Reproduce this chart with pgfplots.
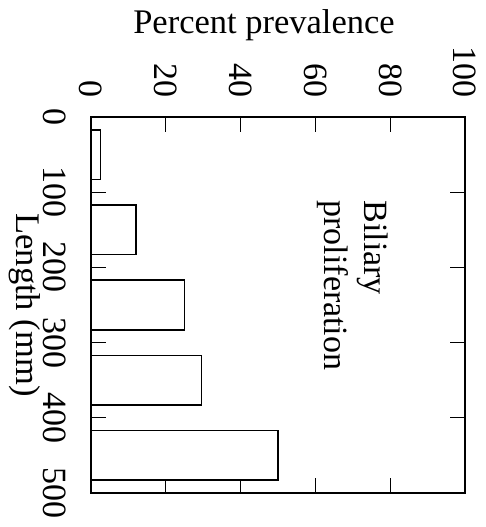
\documentclass[border=0pt]{standalone}
\usepackage{fontspec}
\setmainfont{Liberation Serif}
\usepackage{pgfplots}
\pgfplotsset{compat=1.18}
\begin{document}
\begin{tikzpicture}
\path[use as bounding box] (0,0) rectangle (485pt,-527pt);
\begin{axis}[
  at={(91pt,-117pt)}, anchor=north west,
  scale only axis, width=374pt, height=376pt,
  xmin=0, xmax=100, ymin=0, ymax=500, y dir=reverse,
  xtick={0,20,...,100}, ytick={0,100,...,500},
  xticklabel pos=upper, yticklabel pos=left,
  tick align=inside, major tick length=15pt,
  every tick/.style={black, line width=1.3pt},
  axis line style={line width=2pt},
  /pgf/number format/assume math mode=true,
  tick label style={font=\fontsize{34}{40}\selectfont, inner sep=0pt},
  xticklabel style={rotate=-90, anchor=east},
  yticklabel style={rotate=-90, anchor=north},
  xticklabel shift=19pt, yticklabel shift=25pt,
  xlabel={Percent prevalence},
  ylabel={Length (mm)},
  every axis x label/.style={at={(axis description cs:0.4626,1.2234)}, anchor=base, inner sep=0pt, font=\fontsize{34.5}{40}\selectfont},
  every axis y label/.style={at={(axis description cs:-0.198,0.5)}, anchor=base, rotate=-90, inner sep=0pt, font=\fontsize{34.5}{40}\selectfont},
]
\addplot[xbar, bar width=66, fill=white, draw=black, line width=1.6pt] coordinates {(2.5,50) (12,150) (25,250) (29.5,350) (50,450)};
\node[rotate=-90, anchor=north west, align=left, inner sep=0pt, font=\fontsize{34}{40}\selectfont] at (axis cs:79.4,110.7) {Biliary\\proliferation};
\end{axis}
\end{tikzpicture}
\end{document}
